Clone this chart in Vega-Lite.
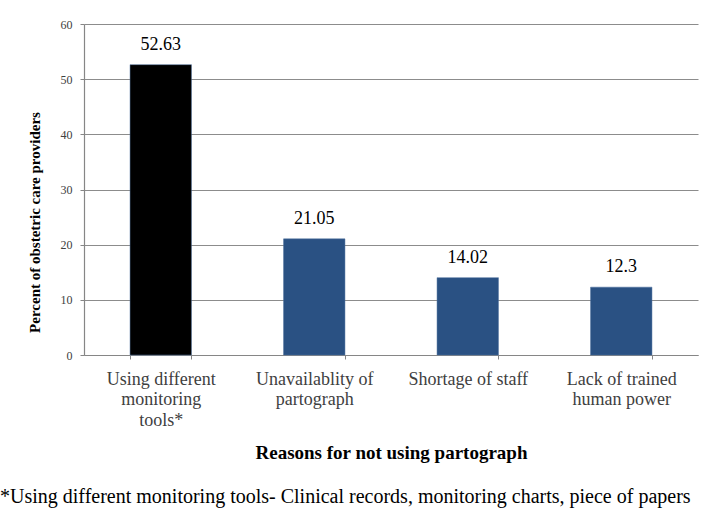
{
  "$schema": "https://vega.github.io/schema/vega-lite/v6.json",
  "width": 614,
  "height": 331,
  "autosize": {"type": "none"},
  "padding": {"left": 84, "top": 24, "right": 24, "bottom": 154},
  "background": "white",
  "title": {
    "text": "*Using different monitoring tools- Clinical records, monitoring charts, piece of papers",
    "orient": "bottom",
    "anchor": "start",
    "frame": "group",
    "dx": -84,
    "offset": 25,
    "font": "Liberation Serif",
    "fontSize": 20,
    "fontWeight": "normal",
    "color": "black"
  },
  "data": {
    "values": [
      {"reason": "Using different|monitoring|tools*", "percent": 52.63},
      {"reason": "Unavailablity of|partograph", "percent": 21.05},
      {"reason": "Shortage of staff", "percent": 14.02},
      {"reason": "Lack of trained|human power", "percent": 12.3}
    ]
  },
  "encoding": {
    "x": {
      "field": "reason",
      "type": "nominal",
      "sort": null,
      "scale": {"paddingInner": 0.6, "paddingOuter": 0.3},
      "axis": {
        "title": "Reasons for not using partograph",
        "titleFontSize": 19,
        "labelAngle": 0,
        "labelExpr": "split(datum.label, '|')",
        "labelLineHeight": 20.5,
        "labelFontSize": 18,
        "labelColor": "#404040",
        "labelPadding": 11,
        "labelLimit": 200,
        "tickBand": "extent",
        "tickSize": 4,
        "titlePadding": 14
      }
    },
    "y": {
      "field": "percent",
      "type": "quantitative",
      "scale": {"domain": [0, 60]},
      "axis": {
        "title": "Percent of obstetric care providers",
        "titleFontSize": 15,
        "values": [0, 10, 20, 30, 40, 50, 60],
        "labelFontSize": 12,
        "labelColor": "#404040",
        "labelPadding": 8,
        "tickSize": 4,
        "grid": true,
        "titleX": -50,
        "titleY": 198,
        "titleAlign": "center",
        "titleBaseline": "middle",
        "titleAngle": -90
      }
    }
  },
  "layer": [
    {
      "mark": {"type": "bar", "stroke": "#4a6f9c", "strokeWidth": 0.5},
      "encoding": {
        "color": {
          "field": "reason",
          "type": "nominal",
          "scale": {
            "domain": ["Using different|monitoring|tools*", "Unavailablity of|partograph", "Shortage of staff", "Lack of trained|human power"],
            "range": ["#000000", "#2a5183", "#2a5183", "#2a5183"]
          },
          "legend": null
        }
      }
    },
    {
      "mark": {"type": "text", "baseline": "bottom", "dy": -11, "font": "Liberation Serif", "fontSize": 18, "color": "black"},
      "encoding": {"text": {"field": "percent", "type": "quantitative"}}
    }
  ],
  "config": {
    "view": {"stroke": null},
    "font": "Liberation Serif",
    "axis": {
      "labelFont": "Liberation Serif",
      "titleFont": "Liberation Serif",
      "titleFontWeight": "bold",
      "titleColor": "black",
      "domainColor": "#868686",
      "tickColor": "#868686",
      "gridColor": "#8c8c8c",
      "gridWidth": 1.2,
      "domainWidth": 1.2
    }
  }
}
